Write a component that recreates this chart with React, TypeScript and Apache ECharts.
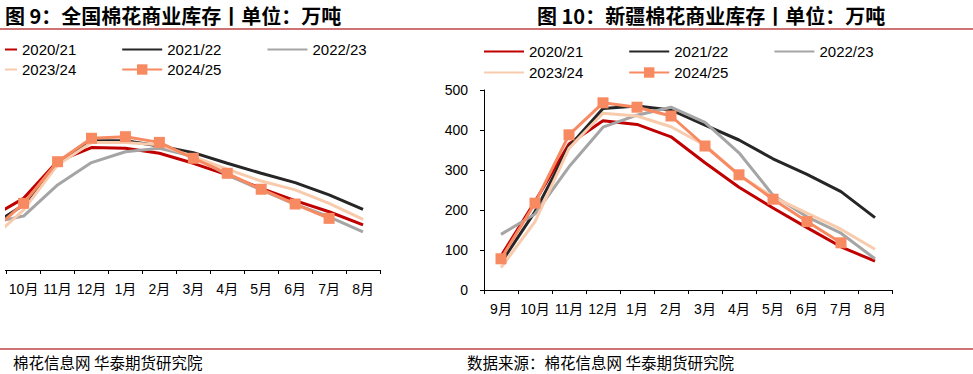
import React, { useEffect, useRef } from "react";
import * as echarts from "echarts";

const months = ["9月", "10月", "11月", "12月", "1月", "2月", "3月", "4月", "5月", "6月", "7月", "8月"];
const seasons = ["2020/21", "2021/22", "2022/23", "2023/24", "2024/25"];

// 全国棉花商业库存 (万吨)
const nat2021 = [228, 315, 478, 538, 535, 513, 469, 418, 359, 305, 256, 198];
const nat2122 = [191, 286, 469, 568, 568, 545, 516, 469, 425, 384, 330, 267];
const nat2223 = [206, 237, 374, 472, 520, 535, 500, 418, 352, 289, 234, 168];
const nat2324 = [129, 264, 462, 560, 560, 550, 498, 443, 391, 352, 293, 223];
const nat2425 = [161, 293, 476, 579, 586, 561, 491, 425, 355, 290, 227, null];

// 新疆棉花商业库存 (万吨)
const xj2021 = [85, 221, 365, 423, 414, 383, 318, 257, 205, 156, 108, 72];
const xj2122 = [68, 196, 358, 454, 460, 450, 412, 375, 328, 289, 246, 181];
const xj2223 = [139, 190, 308, 407, 437, 457, 419, 343, 237, 183, 142, 78];
const xj2324 = [56, 171, 354, 442, 435, 408, 362, 287, 233, 192, 152, 102];
const xj2425 = [78, 217, 388, 468, 457, 435, 360, 288, 227, 171, 118, null];

const yTicksRight = [0, 100, 200, 300, 400, 500];

const colors = ["#C00000", "#262626", "#A5A5A5", "#F8CBAD", "#F88A62"];
const FONT_CJK = '"Noto Sans CJK SC", "Noto Sans", sans-serif';
const FONT_NUM = '"Liberation Sans", "Noto Sans CJK SC", sans-serif';

export default function App() {
  const ref = useRef<HTMLDivElement>(null);
  useEffect(() => {
    if (!ref.current) return;
    const chart = echarts.init(ref.current, undefined, { renderer: "svg" });
    const natData = [nat2021, nat2122, nat2223, nat2324, nat2425];
    const xjData = [xj2021, xj2122, xj2223, xj2324, xj2425];
    const mkSeries = (data: (number | null)[], i: number, idx: number) => ({
      type: "line",
      name: seasons[i],
      xAxisIndex: idx,
      yAxisIndex: idx,
      data,
      symbol: i === 4 ? "rect" : "none",
      symbolSize: 11,
      itemStyle: { color: colors[i] },
      lineStyle: { color: colors[i], width: 3 },
      z: 2 + i,
    });
    const series: any[] = [];
    natData.forEach((d, i) => series.push(mkSeries(d, i, 0)));
    xjData.forEach((d, i) => series.push(mkSeries(d, i, 1)));

    const legendBase = {
      itemWidth: 40,
      itemHeight: 13,
      itemGap: 45,
      padding: 0,
      textStyle: { fontSize: 15, fontFamily: FONT_NUM, color: "#000" },
      selectedMode: false,
      orient: "horizontal",
    };
    const noSym = (name: string) => ({ name, itemStyle: { opacity: 0 } });
    const row1 = [noSym("2020/21"), noSym("2021/22"), noSym("2022/23")];
    const row2 = [noSym("2023/24"), { name: "2024/25" }];

    const axisLineStyle = { show: true, lineStyle: { color: "#000", width: 1 } };

    chart.setOption({
      animation: false,
      backgroundColor: "#fff",
      legend: [
        { ...legendBase, left: -24, top: 42, data: row1 },
        { ...legendBase, left: -24, top: 62, data: row2 },
        { ...legendBase, left: 483, top: 44, data: row1 },
        { ...legendBase, left: 483, top: 65, data: row2 },
      ],
      grid: [
        { left: -27.3, width: 407.3, top: 88, height: 182, outerBoundsMode: "none", containLabel: false },
        { left: 484, width: 408, top: 90, height: 200, outerBoundsMode: "none", containLabel: false },
      ],
      xAxis: [
        {
          type: "category",
          gridIndex: 0,
          data: months,
          axisLine: axisLineStyle,
          axisTick: { show: true, length: 4, lineStyle: { color: "#000" } },
          axisLabel: {
            fontSize: 14,
            color: "#000",
            fontFamily: FONT_NUM,
            margin: 12,
            interval: (index: number) => index > 0,
          },
        },
        {
          type: "category",
          gridIndex: 1,
          data: months,
          axisLine: axisLineStyle,
          axisTick: { show: true, length: 4, lineStyle: { color: "#000" } },
          axisLabel: { fontSize: 14, color: "#000", fontFamily: FONT_NUM, margin: 12, interval: 0 },
        },
      ],
      yAxis: [
        {
          type: "value",
          gridIndex: 0,
          min: 0,
          max: 800,
          interval: 100,
          show: false,
          splitLine: { show: false },
        },
        {
          type: "value",
          gridIndex: 1,
          min: yTicksRight[0],
          max: yTicksRight[yTicksRight.length - 1],
          interval: 100,
          axisLine: axisLineStyle,
          axisTick: { show: true, length: 4, lineStyle: { color: "#000" } },
          splitLine: { show: false },
          axisLabel: { fontSize: 14, color: "#000", fontFamily: FONT_NUM, margin: 16 },
        },
      ],
      graphic: [
        {
          type: "text",
          x: 5,
          y: 15,
          style: {
            text: "图 9：全国棉花商业库存丨单位：万吨",
            fontSize: 20,
            fontWeight: "bold",
            fontFamily: FONT_CJK,
            fill: "#000",
            verticalAlign: "middle",
          },
        },
        {
          type: "text",
          x: 537,
          y: 15,
          style: {
            text: "图 10：新疆棉花商业库存丨单位：万吨",
            fontSize: 20,
            fontWeight: "bold",
            fontFamily: FONT_CJK,
            fill: "#000",
            verticalAlign: "middle",
          },
        },
        {
          type: "line",
          shape: { x1: 0, y1: 29, x2: 973, y2: 29 },
          style: { stroke: "#CD7373", lineWidth: 2 },
        },
        {
          type: "line",
          shape: { x1: 0, y1: 349, x2: 973, y2: 349 },
          style: { stroke: "#CD7373", lineWidth: 2 },
        },
        {
          type: "text",
          x: 13,
          y: 362,
          style: {
            text: "棉花信息网 华泰期货研究院",
            fontSize: 15.5,
            fontFamily: FONT_CJK,
            fill: "#000",
            verticalAlign: "middle",
          },
        },
        {
          type: "text",
          x: 467,
          y: 362,
          style: {
            text: "数据来源：棉花信息网 华泰期货研究院",
            fontSize: 15.5,
            fontFamily: FONT_CJK,
            fill: "#000",
            verticalAlign: "middle",
          },
        },
        {
          type: "rect",
          z: 100,
          shape: { x: 0, y: 35, width: 5, height: 265 },
          style: { fill: "#fff" },
        },
      ],
      series,
    });
    return () => chart.dispose();
  }, []);
  return (
    <div
      ref={ref}
      style={{ position: "absolute", left: 0, top: 0, width: 973, height: 374 }}
    />
  );
}
